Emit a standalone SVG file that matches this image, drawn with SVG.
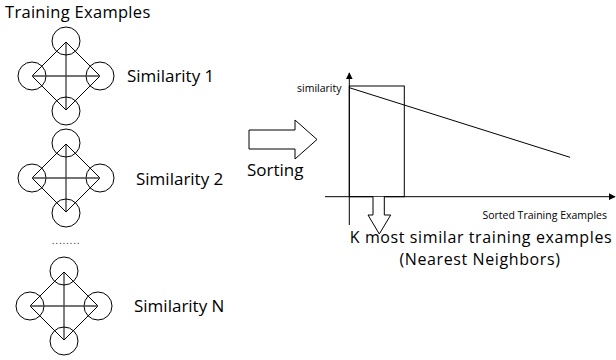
<svg xmlns="http://www.w3.org/2000/svg" width="616" height="360" viewBox="0 0 616 360">
<style>
text{font-family:"Open Sans","Noto Sans","DejaVu Sans",sans-serif;fill:#000}
.c{fill:none;stroke:#000;stroke-width:1}
.l{stroke:#000;stroke-width:1;fill:none}
.h{stroke:#444;stroke-width:1.4}
.big{font-size:17px}
.res{font-size:16px;letter-spacing:0.6px}
.sm{font-size:10.5px}
.blk{fill:#fff;stroke:#000;stroke-width:1}
</style>
<defs>
<marker id="ah" viewBox="0 0 10 10" refX="9" refY="5" markerWidth="7" markerHeight="7" markerUnits="userSpaceOnUse" orient="auto"><path d="M0,0 L10,5 L0,10 z" fill="#000"/></marker>
<g id="graph">
<circle class="c" cx="0" cy="-35" r="14"/>
<circle class="c" cx="-34" cy="0" r="14"/>
<circle class="c" cx="34" cy="0" r="14"/>
<circle class="c" cx="0" cy="35" r="14"/>
<path class="l" d="M0,-34 L-34,0 L0,34 L34,0 Z M0,-34 L0,34"/>
<path class="h" d="M-34,0 L34,0"/>
</g>
</defs>
<text x="5" y="18" style="font-size:16.5px;letter-spacing:0.3px">Training Examples</text>
<g id="node1"><use href="#graph" x="66" y="76"/><text class="big" x="127" y="82">Similarity 1</text></g>
<g id="node2"><use href="#graph" x="66" y="178"/><text class="big" x="136" y="185">Similarity 2</text></g>
<text x="52" y="244" style="font-size:9px;letter-spacing:1.2px">........</text>
<g id="node3"><use href="#graph" x="64" y="306"/><text class="big" x="134" y="312">Similarity N</text></g>
<g id="sorting">
<path class="blk" d="M249,130 L295,130 L295,120 L317,139.5 L295,159 L295,149 L249,149 Z"/>
<text x="247" y="176" style="font-size:17px">Sorting</text>
</g>
<g id="chart">
<rect class="l" x="349.3" y="86" width="55" height="110.7"/>
<path class="l" d="M349.3,87.7 L570,157.3"/>
<text class="sm" x="297" y="92">similarity</text>
<text class="sm" x="607" y="219" text-anchor="end">Sorted Training Examples</text>
</g>
<g id="connectors">
<path class="l" d="M349.3,225 L349.3,73" marker-end="url(#ah)"/>
<path class="l" d="M325,196.7 L615,196.7" marker-end="url(#ah)"/>
<path class="blk" d="M373,196.7 L373,215 L368,215 L379.3,234 L390.7,215 L384.3,215 L384.3,196.7"/>
</g>
<g id="result">
<text class="res" text-anchor="middle"><tspan x="481" y="243">K most similar training examples</tspan><tspan x="480" y="265">(Nearest Neighbors)</tspan></text>
</g>
</svg>
